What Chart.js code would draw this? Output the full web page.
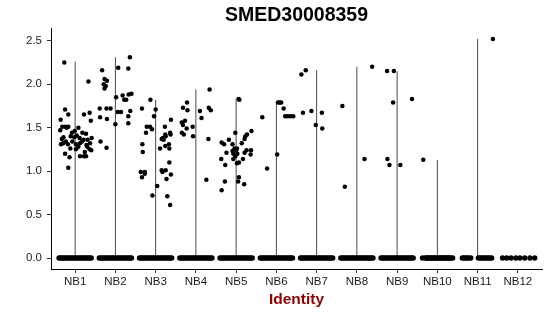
<!DOCTYPE html>
<html>
<head>
<meta charset="utf-8">
<script src="https://cdn.jsdelivr.net/npm/chart.js@4.4.1/dist/chart.umd.min.js"></script>
<style>
html,body{margin:0;padding:0;background:#fff;}
#c{display:block;}
</style>
</head>
<body>
<canvas id="c" width="550" height="316"></canvas>
<script>
const chartTitle = 'SMED30008359';
const xAxisTitle = 'Identity';
const categories = ['NB1','NB2','NB3','NB4','NB5','NB6','NB7','NB8','NB9','NB10','NB11','NB12'];
const yTickValues = [0, 0.5, 1.0, 1.5, 2.0, 2.5];
// top of each (very thin) violin
const violinMax = [2.26, 2.31, 1.82, 1.94, 1.83, 1.79, 2.16, 2.20, 2.15, 1.13, 2.52, 0];

// jitter offsets of the cells with zero expression
const zeroBand = [-0.40,-0.36,-0.32,-0.28,-0.24,-0.20,-0.16,-0.12,-0.08,-0.04,0,0.04,0.08,0.12,0.16,0.20,0.24,0.28,0.32,0.36,0.40];
const zeroNB10 = [-0.37,-0.30,-0.27,-0.24,-0.21,-0.18,-0.15,-0.12,-0.09,-0.06,-0.03,0,0.03,0.06,0.09,0.12,0.15,0.18,0.21,0.24,0.27,0.30,0.34,0.38];
const zeroNB11 = [-0.38,-0.34,-0.30,-0.26,-0.22,-0.17,0.02,0.06,0.10,0.14,0.18,0.22,0.26,0.30,0.35];
const zeroNB12 = [-0.38,-0.28,-0.17,-0.05,0.05,0.17,0.30,0.42];
const zeroOffsets = [zeroBand,zeroBand,zeroBand,zeroBand,zeroBand,zeroBand,zeroBand,zeroBand,zeroBand,zeroNB10,zeroNB11,zeroNB12];

// expressing cells: [jitter offset, value]
const ptsNB1 = [[-0.27,2.25],[0.33,2.03],[-0.25,1.71],[-0.36,1.59],[-0.17,1.65],[0.36,1.67],[0.22,1.65],[0.39,1.58],
  [-0.32,1.51],[-0.24,1.51],[-0.21,1.50],[-0.17,1.51],[0.08,1.50],[-0.08,1.44],[-0.01,1.46],[0.18,1.44],[0.27,1.43],
  [-0.11,1.40],[-0.02,1.39],[0.04,1.41],[0.11,1.38],[-0.37,1.47],[-0.33,1.37],[-0.30,1.32],[-0.29,1.39],[-0.23,1.34],
  [-0.18,1.31],[-0.35,1.31],[0.17,1.34],[0.21,1.36],[0.31,1.36],[0.41,1.38],[0.37,1.32],[0.12,1.32],[0.02,1.31],
  [0.30,1.28],[0.36,1.25],[0.40,1.24],[0.02,1.25],[-0.12,1.26],[0.24,1.22],[-0.25,1.20],[0.12,1.17],[0.22,1.17],
  [0.27,1.17],[-0.14,1.16],[-0.17,1.04],[0.28,1.30],[0.08,1.28],[-0.07,1.34]];
const ptsNB2 = [[-0.33,2.16],[0.07,2.19],[0.32,2.18],[0.36,2.31],[-0.27,2.06],[-0.21,2.04],[-0.29,2.00],[-0.27,1.95],
  [-0.24,1.98],[0.02,1.85],[0.18,1.87],[0.22,1.82],[0.27,1.82],[0.33,1.88],[0.40,1.89],[-0.39,1.72],[-0.22,1.72],
  [-0.12,1.72],[0.06,1.68],[0.14,1.68],[0.37,1.69],[-0.38,1.62],[-0.21,1.60],[0.32,1.63],[0.00,1.54],[0.32,1.55],
  [-0.37,1.34],[-0.22,1.27]];
const ptsNB3 = [[-0.13,1.82],[-0.34,1.72],[0.00,1.71],[-0.04,1.63],[-0.22,1.51],[-0.14,1.51],[-0.09,1.48],[-0.24,1.44],
  [0.38,1.59],[0.23,1.51],[0.36,1.44],[0.37,1.42],[0.24,1.42],[0.25,1.40],[0.18,1.38],[0.20,1.36],[0.11,1.26],
  [0.33,1.31],[0.34,1.26],[-0.33,1.31],[-0.32,1.22],[0.24,1.29],[0.15,1.37],[0.34,1.10],[-0.37,0.99],[-0.27,0.99],
  [-0.27,0.97],[-0.34,0.93],[0.15,1.01],[0.17,0.99],[0.25,1.01],[0.38,0.96],[0.27,0.91],[0.04,0.83],[-0.08,0.72],
  [0.29,0.71],[0.36,0.61]];
const ptsNB4 = [[0.34,1.94],[-0.22,1.79],[-0.32,1.73],[-0.21,1.70],[0.10,1.69],[0.32,1.73],[0.37,1.70],[0.14,1.61],
  [-0.27,1.58],[-0.35,1.56],[-0.32,1.53],[-0.23,1.49],[-0.35,1.44],[-0.30,1.42],[-0.08,1.51],[-0.07,1.40],[0.31,1.37],
  [0.26,0.90]];
const ptsNB5 = [[0.06,1.83],[0.08,1.82],[-0.02,1.44],[0.38,1.46],[0.27,1.42],[0.23,1.40],[0.21,1.37],[-0.18,1.36],
  [-0.36,1.33],[-0.30,1.31],[-0.09,1.31],[0.14,1.32],[-0.04,1.26],[0.00,1.24],[0.02,1.26],[-0.09,1.23],[0.26,1.24],
  [0.37,1.24],[0.21,1.21],[-0.24,1.21],[-0.07,1.20],[0.03,1.20],[-0.02,1.17],[0.36,1.19],[-0.37,1.14],[-0.07,1.14],
  [0.17,1.14],[0.07,1.10],[0.02,1.09],[-0.27,1.07],[0.07,0.93],[0.05,0.88],[-0.28,0.88],[0.20,0.85],[-0.36,0.78]];
const ptsNB6 = [[-0.35,1.62],[-0.23,1.03],[0.02,1.19],[0.04,1.79],[0.08,1.79],[0.12,1.79],[0.18,1.72],[0.22,1.63],
  [0.28,1.63],[0.35,1.63],[0.42,1.63]];
const ptsNB7 = [[-0.38,2.11],[-0.27,2.16],[-0.34,1.67],[-0.13,1.69],[0.13,1.67],[-0.02,1.53],[0.14,1.49]];
const ptsNB8 = [[0.38,2.20],[-0.36,1.75],[0.19,1.14],[-0.30,0.82]];
const ptsNB9 = [[-0.25,2.15],[-0.08,2.15],[-0.10,1.79],[0.37,1.83],[-0.24,1.14],[-0.19,1.07],[0.08,1.07]];
const ptsNB10 = [[-0.35,1.13]];
const ptsNB11 = [[0.38,2.52]];
const ptsNB12 = [];
const expressing = [ptsNB1,ptsNB2,ptsNB3,ptsNB4,ptsNB5,ptsNB6,ptsNB7,ptsNB8,ptsNB9,ptsNB10,ptsNB11,ptsNB12];

const FONT = "'Liberation Sans', Arial, Helvetica, sans-serif";

const datasets = [];
categories.forEach((cat, i) => {
  const pos = i + 1;
  const data = zeroOffsets[i].map(o => ({x: pos + o, y: 0}))
    .concat(expressing[i].map(([o, v]) => ({x: pos + o, y: v})));
  datasets.push({
    label: cat + ' cells',
    data: data,
    order: 1,
    pointRadius: (c) => (c.raw && c.raw.y === 0 ? 2.7 : 2.25),
    pointHoverRadius: 2.25,
    pointBackgroundColor: '#000',
    pointBorderWidth: 0,
    borderColor: '#000'
  });
});
categories.forEach((cat, i) => {
  if (violinMax[i] <= 0) return;
  datasets.push({
    label: cat + ' violin',
    data: [{x: i + 1, y: 0}, {x: i + 1, y: violinMax[i]}],
    showLine: true,
    order: 2,
    borderColor: '#4a4a4a',
    borderWidth: 1,
    pointRadius: 0,
    pointHoverRadius: 0
  });
});

const titlePlugin = {
  id: 'panelTitle',
  afterDraw(chart) {
    const {ctx, chartArea} = chart;
    ctx.save();
    ctx.font = 'bold 19.5px ' + FONT;
    ctx.fillStyle = '#000';
    ctx.textAlign = 'center';
    ctx.textBaseline = 'middle';
    ctx.fillText(chartTitle, (chartArea.left + chartArea.right) / 2, 16);
    ctx.restore();
  }
};

new Chart(document.getElementById('c'), {
  type: 'scatter',
  data: {datasets},
  plugins: [titlePlugin],
  options: {
    responsive: false,
    animation: false,
    events: [],
    layout: {padding: {top: 28, right: 8, bottom: 0, left: 0}},
    plugins: {legend: {display: false}, tooltip: {enabled: false}, title: {display: false}},
    scales: {
      x: {
        type: 'linear',
        min: 0.4,
        max: 12.6,
        afterBuildTicks(scale) { scale.ticks = categories.map((c, i) => ({value: i + 1})); },
        afterFit(scale) { scale.height = 47; },
        ticks: {
          autoSkip: false,
          maxRotation: 0,
          padding: 2,
          color: '#1a1a1a',
          font: {family: FONT, size: 11.5},
          callback: (v) => categories[Math.round(v) - 1]
        },
        grid: {drawOnChartArea: false, drawTicks: true, tickLength: 4, color: '#333', lineWidth: 1},
        border: {display: true, color: '#000', width: 1},
        title: {
          display: true,
          text: xAxisTitle,
          color: '#8B0000',
          font: {family: FONT, size: 15.5, weight: 'bold'},
          padding: {top: 0, bottom: 7}
        }
      },
      y: {
        type: 'linear',
        min: -0.126,
        max: 2.646,
        afterBuildTicks(scale) { scale.ticks = yTickValues.map(v => ({value: v})); },
        afterFit(scale) { scale.width = 51; },
        ticks: {
          padding: 5,
          color: '#1a1a1a',
          font: {family: FONT, size: 11.5},
          callback: (v) => Number(v).toFixed(1)
        },
        grid: {drawOnChartArea: false, drawTicks: true, tickLength: 4, color: '#333', lineWidth: 1},
        border: {display: true, color: '#000', width: 1}
      }
    }
  }
});
</script>
</body>
</html>
